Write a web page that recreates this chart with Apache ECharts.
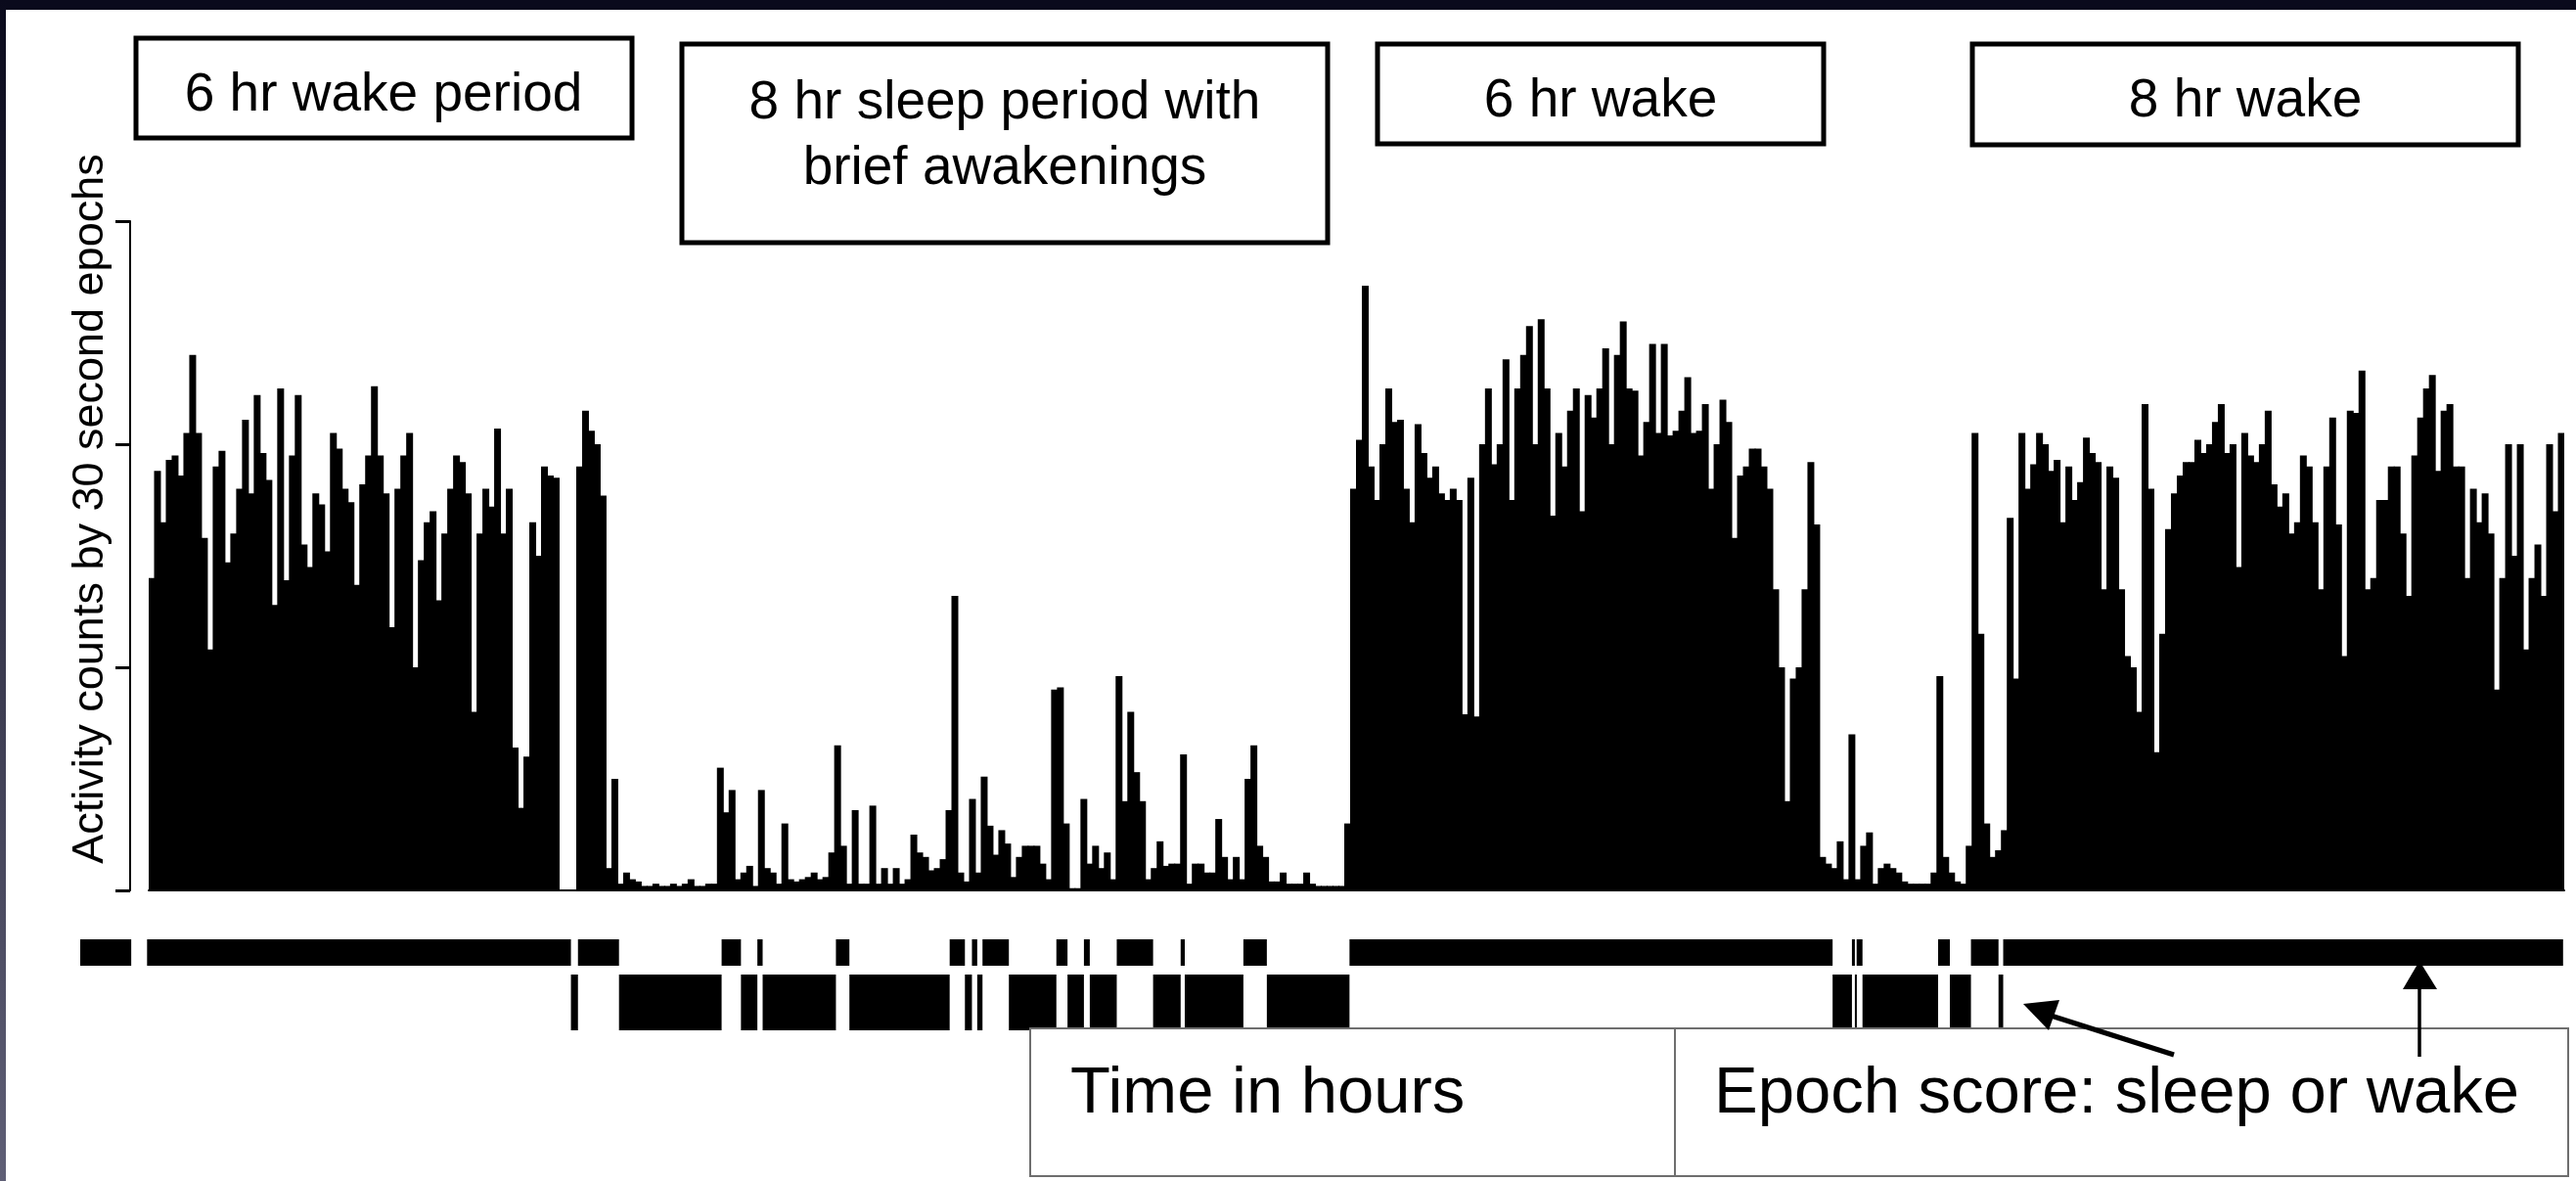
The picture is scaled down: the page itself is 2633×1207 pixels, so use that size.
<!DOCTYPE html>
<html>
<head>
<meta charset="utf-8">
<title>Activity counts and epoch score</title>
<script src="https://cdn.jsdelivr.net/npm/echarts@6/dist/echarts.min.js"></script>
<style>
html, body { margin: 0; padding: 0; background: #fff; }
#chart { width: 2633px; height: 1207px; }
</style>
</head>
<body>
<div id="chart"></div>
<script>
// activity counts, one value per bin (~6 px of the original trace), axis 0..300
const firstWake = [
  140, 188, 165, 193, 195, 186, 205, 240, 205, 158,
  108, 190, 197, 147, 160, 180, 211, 178, 222, 196,
  184, 128, 225, 139, 195, 222, 155, 145, 178, 173,
  152, 205, 198, 180, 174, 137, 182, 195, 226, 195,
  178, 118, 180, 195, 205, 100, 148, 165, 170, 130,
  160, 180, 195, 192, 178, 80, 160, 180, 172, 207,
  160, 180, 64, 37, 60, 165, 150, 190, 186, 185
]
const sleepPeriod = [
  0, 0, 0, 190, 215, 206, 200, 177, 10, 50,
  3, 8, 5, 4, 2, 2, 3, 2, 2, 3,
  2, 3, 5, 2, 2, 3, 3, 55, 35, 45,
  5, 8, 11, 2, 45, 10, 8, 3, 30, 5,
  4, 5, 6, 8, 5, 6, 17, 65, 20, 3,
  36, 3, 3, 38, 3, 10, 3, 10, 3, 5,
  25, 17, 15, 9, 10, 14, 36, 132, 8, 4,
  41, 8, 51, 29, 16, 27, 21, 6, 15, 20,
  20, 20, 12, 5, 90, 91, 30, 1, 1, 41,
  12, 20, 10, 17, 5, 96, 40, 80, 53, 40,
  5, 10, 22, 11, 12, 12, 61, 3, 12, 12,
  8, 8, 32, 15, 5, 15, 5, 50, 65, 20,
  15, 4, 4, 8, 3, 3, 3, 8, 3, 2,
  2, 2, 2, 2
]
const secondWake = [
  30, 180, 202, 271, 190, 175,
  200, 225, 210, 211, 180, 165, 209, 196, 185, 190,
  178, 175, 180, 175, 79, 185, 78, 200, 225, 191,
  200, 238, 175, 225, 240, 253, 200, 256, 225, 168,
  205, 190, 215, 225, 170, 222, 212, 225, 243, 200,
  240, 255, 225, 224, 195, 210, 245, 205, 245, 204,
  206, 215, 230, 205, 206, 218, 180, 200, 220, 210,
  158, 186, 190, 198, 198, 190, 180, 135, 100, 40,
  95, 100, 135, 192, 164
]
const restGap = [
  15, 12, 10, 22, 5, 70, 5, 20, 26, 3,
  10, 12, 10, 8, 4, 3, 3, 3, 3, 8,
  96, 15, 8, 4, 3, 20
]
const thirdWake = [
  205, 115, 30, 15, 18, 27, 167, 95, 205,
  180, 191, 205, 200, 188, 193, 165, 190, 175, 183,
  203, 196, 192, 135, 190, 185, 135, 105, 100, 80,
  218, 180, 62, 115, 162, 178, 186, 192, 192, 202,
  196, 200, 210, 218, 196, 200, 145, 205, 195, 192,
  200, 215, 182, 172, 178, 160, 165, 195, 190, 165,
  135, 190, 212, 164, 105, 215, 214, 233, 135, 140,
  175, 175, 190, 190, 160, 132, 195, 212, 225, 231,
  188, 215, 218, 190, 190, 140, 180, 165, 178, 160,
  90, 140, 200, 150, 200, 108, 140, 155, 132, 200,
  170, 205
]
const activityCounts = [].concat(firstWake, sleepPeriod, secondWake, restGap, thirdWake)
const bins = activityCounts.map((_, i) => i)

// epoch score runs, in bins: start, end, state (1 = wake, 0 = sleep)
const epochStart = [-11.7, -0.3, 72, 73.2, 80.2, 97.7, 101, 103.8, 104.7, 117.2, 119.5, 136.6, 139.2, 140.4, 141.3, 142.2, 146.7, 154.8, 156.7, 159.5, 160.5, 165.1, 171.3, 176, 176.7, 186.7, 190.7, 204.8, 287.2, 290.5, 291, 291.3, 292.3, 305.2, 307.2, 310.8, 315.5, 316.3]
const epochEnd = [-3, 72, 73.2, 80.2, 97.7, 101, 103.8, 104.7, 117.2, 119.5, 136.6, 139.2, 140.4, 141.3, 142.2, 146.7, 154.8, 156.7, 159.5, 160.5, 165.1, 171.3, 176, 176.7, 186.7, 190.7, 204.8, 287.2, 290.5, 291, 291.3, 292.3, 305.2, 307.2, 310.8, 315.5, 316.3, 411.8]
const epochState = [1, 1, 0, 1, 0, 1, 0, 1, 0, 1, 0, 1, 0, 1, 0, 1, 0, 1, 0, 1, 0, 1, 0, 1, 0, 1, 0, 1, 0, 1, 0, 1, 0, 1, 0, 1, 0, 1]

const yMax = 300
const yStep = 100

const periodLabels = ['6 hr wake period', '8 hr sleep period with\nbrief awakenings', '6 hr wake', '8 hr wake']
const yAxisTitle = 'Activity counts by 30 second epochs'
const legendLabels = ['Time in hours', 'Epoch score: sleep or wake']

const FONT = '"Liberation Sans", Arial, Helvetica, sans-serif'

const box = (x, y, w, h) => ({
  type: 'rect',
  shape: { x, y, width: w, height: h },
  style: { fill: '#fff', stroke: '#000', lineWidth: 5 },
  z: 10
})
const label = (text, x, y, size, align) => ({
  type: 'text',
  x, y,
  style: { text, fill: '#000', font: size + 'px ' + FONT, align: align || 'center', verticalAlign: 'middle', lineHeight: 67 },
  z: 11
})

const chart = echarts.init(document.getElementById('chart'), null, { renderer: 'canvas' })

chart.setOption({
  backgroundColor: '#fff',
  animation: false,
  grid: [
    { left: 152, right: 12, top: 226, bottom: 297, outerBoundsMode: 'none' },
    { left: 82, right: 12, top: 960, height: 93, outerBoundsMode: 'none' }
  ],
  xAxis: [
    {
      type: 'category',
      data: bins,
      gridIndex: 0,
      axisLine: { show: true, lineStyle: { color: '#000', width: 2 } },
      axisTick: { show: false },
      axisLabel: { show: false },
      splitLine: { show: false }
    },
    {
      type: 'value',
      gridIndex: 1,
      min: -11.7,
      max: 412,
      show: false
    }
  ],
  yAxis: [
    {
      type: 'value',
      gridIndex: 0,
      min: 0,
      max: yMax,
      interval: yStep,
      offset: 19,
      axisLine: { show: true, lineStyle: { color: '#000', width: 2 } },
      axisTick: { show: true, length: 15, lineStyle: { color: '#000', width: 3 } },
      axisLabel: { show: false },
      splitLine: { show: false }
    },
    {
      type: 'value',
      gridIndex: 1,
      min: 0,
      max: 93,
      inverse: true,
      show: false
    }
  ],
  series: [
    {
      name: 'Activity',
      type: 'bar',
      xAxisIndex: 0,
      yAxisIndex: 0,
      data: activityCounts,
      // slightly wider than the band so neighbouring bars overlap and leave no seams
      barWidth: 7,
      itemStyle: { color: '#000' },
      silent: true
    },
    {
      name: 'Epoch score',
      type: 'custom',
      xAxisIndex: 1,
      yAxisIndex: 1,
      data: epochStart.map((s, i) => [s, epochEnd[i], epochState[i]]),
      encode: { x: [0, 1], y: 2 },
      renderItem: (params, api) => {
        // wake epochs sit in the upper band, sleep epochs in the lower band
        const band = api.value(2) === 1 ? [0, 27] : [36, 93]
        const p0 = api.coord([api.value(0), band[0]])
        const p1 = api.coord([api.value(1), band[1]])
        return {
          type: 'rect',
          shape: { x: p0[0], y: p0[1], width: Math.max(p1[0] - p0[0], 2), height: p1[1] - p0[1] },
          style: { fill: '#000' }
        }
      },
      silent: true
    }
  ],
  graphic: [
    // dark frame at the top and the left edge
    { type: 'rect', shape: { x: 0, y: 0, width: 2633, height: 10 }, style: { fill: '#0a0a1c' }, z: 20 },
    {
      type: 'rect', shape: { x: 0, y: 0, width: 6, height: 1207 }, z: 20,
      style: { fill: new echarts.graphic.LinearGradient(0, 0, 0, 1, [{ offset: 0, color: '#0a0a1c' }, { offset: 1, color: '#5f5f76' }]) }
    },

    // y axis title
    {
      type: 'text', x: 93, y: 520, rotation: Math.PI / 2, z: 11,
      style: { text: yAxisTitle, fill: '#000', font: '45px ' + FONT, align: 'center', verticalAlign: 'middle' }
    },

    // period boxes
    box(139, 39, 507, 102),
    label(periodLabels[0], 392, 98, 55),
    box(697, 45, 660, 203),
    label(periodLabels[1], 1027, 139, 55),
    box(1408, 45, 456, 102),
    label(periodLabels[2], 1636, 104, 55),
    box(2016, 45, 558, 103),
    label(periodLabels[3], 2295, 104, 55),

    // legend box at the bottom
    {
      type: 'rect', shape: { x: 1053, y: 1051, width: 1572, height: 151 }, z: 10,
      style: { fill: '#fff', stroke: '#6e6e6e', lineWidth: 2 }
    },
    { type: 'line', shape: { x1: 1712, y1: 1051, x2: 1712, y2: 1202 }, style: { stroke: '#6e6e6e', lineWidth: 2 }, z: 11 },
    label(legendLabels[0], 1094, 1119, 67, 'left'),
    label(legendLabels[1], 1752, 1119, 67, 'left'),

    // arrows pointing at the epoch score row
    { type: 'line', shape: { x1: 2222, y1: 1078, x2: 2090, y2: 1036 }, style: { stroke: '#000', lineWidth: 5 }, z: 12 },
    { type: 'polygon', shape: { points: [[2068, 1026], [2105, 1022], [2094, 1053]] }, style: { fill: '#000' }, z: 12 },
    { type: 'line', shape: { x1: 2473, y1: 1080, x2: 2473, y2: 1005 }, style: { stroke: '#000', lineWidth: 3.5 }, z: 12 },
    { type: 'polygon', shape: { points: [[2473, 982], [2456, 1011], [2491, 1011]] }, style: { fill: '#000' }, z: 12 }
  ]
})
</script>
</body>
</html>
